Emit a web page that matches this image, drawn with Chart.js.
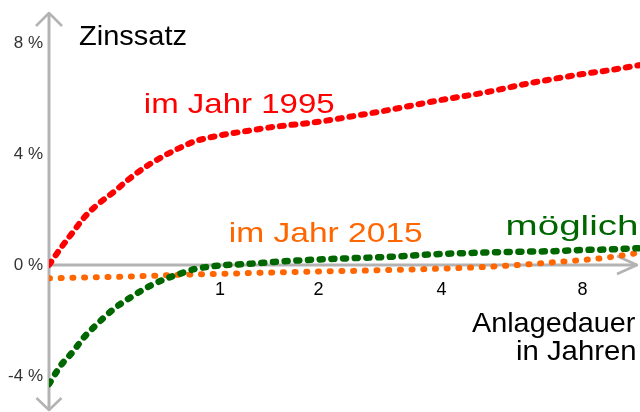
<!DOCTYPE html>
<html lang="de">
<head>
<meta charset="utf-8">
<title>Zinssatz nach Anlagedauer</title>
<script src="https://cdn.jsdelivr.net/npm/chart.js@4"></script>
<style>
  html, body { margin: 0; padding: 0; background: #fff; }
  #chart { display: block; }
</style>
</head>
<body>
<canvas id="chart" width="640" height="412"></canvas>
<script>
// Anlagedauer in Jahren (x) und Zinssatz in % (y)
var years        = [0, 0.05, 0.1, 0.15, 0.2, 0.3, 0.4, 0.5, 0.6, 0.7, 0.8, 1, 1.25, 1.5, 2, 2.5, 3, 4, 5, 6, 7, 8, 9, 10.5];
var rate1995     = [0, 0.63, 1.18, 1.70, 2.08, 2.65, 3.20, 3.63, 3.96, 4.23, 4.45, 4.67, 4.84, 4.98, 5.16, 5.38, 5.58, 5.95, 6.22, 6.50, 6.71, 6.88, 7.01, 7.21];
var rate2015     = [-0.48, -0.47, -0.46, -0.45, -0.44, -0.43, -0.41, -0.39, -0.37, -0.35, -0.34, -0.32, -0.29, -0.27, -0.23, -0.21, -0.18, -0.13, -0.07, 0.01, 0.10, 0.18, 0.27, 0.45];
var rateMoeglich = [-4.29, -3.60, -3.13, -2.61, -2.22, -1.57, -1.12, -0.76, -0.50, -0.31, -0.15, -0.02, 0.04, 0.11, 0.20, 0.25, 0.29, 0.40, 0.45, 0.48, 0.50, 0.54, 0.56, 0.61];

var xTicks = [1, 2, 4, 8];
var yTicks = [-4, 0, 4, 8];
var yTickLabels = ['-4 %', '0 %', '4 %', '8 %'];
var seriesNames = ['im Jahr 1995', 'im Jahr 2015', 'möglich'];
var axisTitles = ['Zinssatz', 'Anlagedauer', 'in Jahren'];

// x axis is squeezed like log(1 + t / 0.95)
var X_OFFSET = 0.95;
function xPos(t) { return Math.log(1 + t / X_OFFSET); }

function points(values) {
    return years.map(function (t, i) { return {x: xPos(t), y: values[i]}; });
}

Chart.defaults.font.family = '"Liberation Sans", Arial, sans-serif';

var axisColor = '#b3b3b3';

var axesPlugin = {
    id: 'arrowAxes',
    beforeDatasetsDraw: function (chart) {
        var ctx = chart.ctx, area = chart.chartArea;
        var x0 = chart.scales.x.getPixelForValue(0);
        var y0 = chart.scales.y.getPixelForValue(0);
        var top = area.top, bottom = area.bottom, right = area.right - 3;
        ctx.save();
        ctx.strokeStyle = axisColor;
        ctx.lineWidth = 3;
        ctx.beginPath();
        ctx.moveTo(x0, top);
        ctx.lineTo(x0, bottom);
        ctx.moveTo(x0, y0);
        ctx.lineTo(right, y0);
        ctx.stroke();
        // open arrow heads
        ctx.lineWidth = 2.5;
        ctx.lineJoin = 'round';
        ctx.beginPath();
        ctx.moveTo(x0 - 13, top + 13); ctx.lineTo(x0, top); ctx.lineTo(x0 + 13, top + 13);
        ctx.moveTo(x0 - 12.5, bottom - 12); ctx.lineTo(x0, bottom); ctx.lineTo(x0 + 12.5, bottom - 12);
        ctx.moveTo(right - 20, y0 - 9); ctx.lineTo(right, y0); ctx.lineTo(right - 20, y0 + 9);
        ctx.stroke();
        ctx.restore();
    }
};

// free text labels, placed in pixels; w = ink width in the picture
var notes = [
    {text: axisTitles[0],  x: 79,  y: 45,  size: 28, color: '#000000', w: 107},
    {text: seriesNames[0], x: 145, y: 113, size: 28, color: '#ff0000', w: 189},
    {text: seriesNames[1], x: 230, y: 242, size: 28, color: '#ff6600', w: 192},
    {text: seriesNames[2], x: 507, y: 235, size: 27, color: '#006600', w: 130},
    {text: axisTitles[1],  right: 635, y: 332, size: 28, color: '#000000', w: 163},
    {text: axisTitles[2],  right: 635, y: 360, size: 28, color: '#000000', w: 118}
];

var notesPlugin = {
    id: 'notes',
    afterDatasetsDraw: function (chart) {
        var ctx = chart.ctx;
        notes.forEach(function (n) {
            ctx.save();
            ctx.font = n.size + 'px "Liberation Sans", Arial, sans-serif';
            ctx.fillStyle = n.color;
            ctx.textAlign = 'left';
            ctx.textBaseline = 'alphabetic';
            var m = ctx.measureText(n.text);
            var ink = m.actualBoundingBoxLeft + m.actualBoundingBoxRight;
            var left = n.right !== undefined ? n.right - n.w : n.x;
            ctx.translate(left, n.y);
            ctx.scale(n.w / ink, 1);
            ctx.fillText(n.text, m.actualBoundingBoxLeft, 0);
            ctx.restore();
        });
    }
};

new Chart(document.getElementById('chart'), {
    type: 'line',
    data: {
        datasets: [{
            label: seriesNames[0],
            data: points(rate1995),
            borderColor: '#ff0000',
            borderDash: [4, 7.7]
        }, {
            label: seriesNames[2],
            data: points(rateMoeglich),
            borderColor: '#006600',
            borderWidth: 6.5,
            borderDash: [3, 8.7]
        }, {
            label: seriesNames[1],
            data: points(rate2015),
            borderColor: '#ff6600',
            borderDash: [1, 10.7]
        }]
    },
    options: {
        responsive: false,
        animation: false,
        layout: {padding: {top: 13, bottom: 2, left: 0, right: 0}},
        elements: {
            line: {borderWidth: 6, borderCapStyle: 'round', cubicInterpolationMode: 'monotone', fill: false},
            point: {radius: 0, hoverRadius: 0}
        },
        plugins: {
            legend: {display: false},
            tooltip: {enabled: false}
        },
        scales: {
            x: {
                type: 'linear',
                position: {y: 0},
                min: 0,
                max: xPos(10.45),
                grid: {display: false},
                border: {display: false},
                afterBuildTicks: function (scale) {
                    scale.ticks = xTicks.map(function (t) { return {value: xPos(t)}; });
                },
                afterFit: function (scale) {
                    scale.paddingLeft = 0;
                    scale.paddingRight = 0;
                },
                ticks: {
                    padding: 6,
                    color: '#000000',
                    font: {size: 18},
                    callback: function (value, i) { return String(xTicks[i]); }
                }
            },
            y: {
                type: 'linear',
                min: -5.225,
                max: 9.081,
                grid: {display: false, drawTicks: false},
                border: {display: false},
                afterBuildTicks: function (scale) {
                    scale.ticks = yTicks.map(function (v) { return {value: v}; });
                },
                afterFit: function (scale) {
                    scale.width = 49;
                    scale.paddingTop = 0;
                    scale.paddingBottom = 0;
                },
                ticks: {
                    padding: 6,
                    color: '#333333',
                    font: {size: 17},
                    callback: function (value, i) { return yTickLabels[i]; }
                }
            }
        }
    },
    plugins: [axesPlugin, notesPlugin]
});
</script>
</body>
</html>
